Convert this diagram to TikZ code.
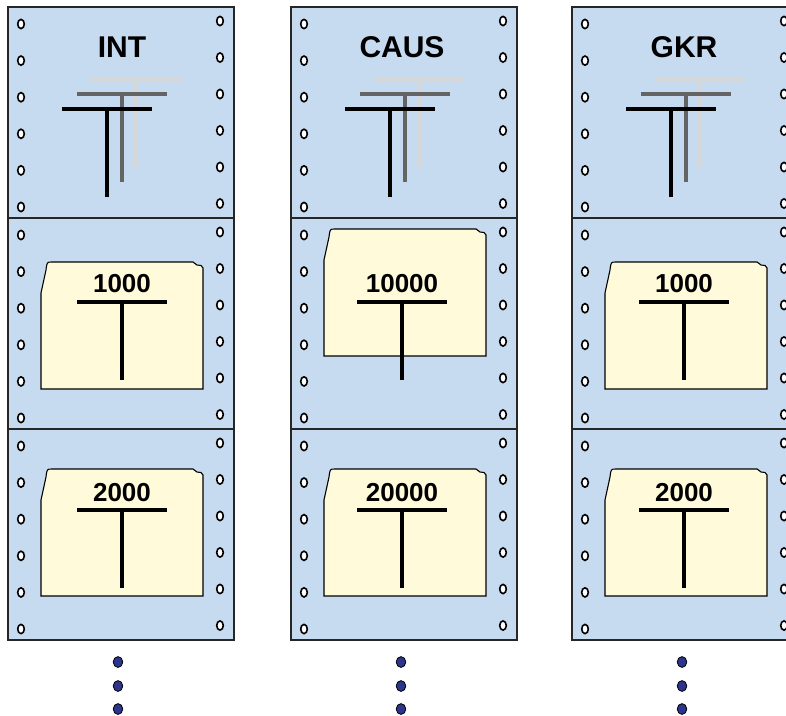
\documentclass[tikz,border=0pt]{standalone}
\usepackage{fontspec}
\setmainfont{Liberation Sans}
\definecolor{paper}{RGB}{198,218,240}
\definecolor{folder}{RGB}{255,250,217}
\definecolor{dotblue}{RGB}{44,52,140}
\definecolor{teegray}{RGB}{100,100,100}
\definecolor{teelight}{RGB}{215,215,215}
\tikzset{
  hole/.style={draw=black,fill=white,line width=1.6pt},
  tee/.style={line width=3.2pt},
  title/.style={font=\bfseries\fontsize{30}{30}\selectfont},
  number/.style={font=\bfseries\fontsize{26}{26}\selectfont}
}
\newcommand\drawfolder[2]{%
\path[draw,fill=folder,line width=1.1pt] (#1,#2+127) -- (#1,#2+31) -- (#1+5,#2+8)
  .. controls (#1+6,#2) .. (#1+11,#2) -- (#1+152,#2) -- (#1+156,#2+3) -- (#1+160,#2+3.5)
  -- (#1+162,#2+6) -- (#1+162,#2+127) -- cycle;}
\newcommand\drawtee[4]{%
\path[draw=#4,tee] (#1-45,#2) -- (#1+45,#2) (#1,#2) -- (#1,#3);}

\begin{document}
\begin{tikzpicture}[x=1pt,y=-1pt]
\useasboundingbox (0,0) rectangle (786,715);
\clip (0,0) rectangle (786,715);
\foreach \x/\c/\name/\up/\low/\ftop [count=\i] in {8/122/INT/1000/2000/262, 291/402/CAUS/10000/20000/229, 572/684/GKR/1000/2000/262}{
% Paper
\foreach \top in {7,218,429}{
\path[draw=black!85,fill=paper,line width=1.3pt] (\x,\top) rectangle ++(226,211);
\foreach \k in {0,...,5}{
\path[hole] (\x+13,\top+17+\k*36.6) ellipse (3.3pt and 4.6pt);
\path[hole] (\x+212,\top+14+\k*36.5) ellipse (3.3pt and 4.6pt);
}
}
% Title and stacked T's
\node[title] (title\i) at (\c,47) {\name};
\drawtee{\x+128}{79}{167}{teelight}
\drawtee{\x+114}{94}{182}{teegray}
\drawtee{\x+99}{109}{197}{black}
% Middle sheet
\drawfolder{\x+33}{\ftop}
\node[number] (upper\i) at (\c,284) {\up};
\drawtee{\c}{302}{380}{black}
% Lower sheet
\drawfolder{\x+33}{469}
\node[number] (lower\i) at (\c,493) {\low};
\drawtee{\c}{510}{588}{black}
% More sheets
\foreach \y in {662,686,709}{
\path[draw=black,fill=dotblue,line width=0.8pt] (\x+110,\y) ellipse (4.8pt and 5.4pt);
}
}
\end{tikzpicture}
\end{document}
